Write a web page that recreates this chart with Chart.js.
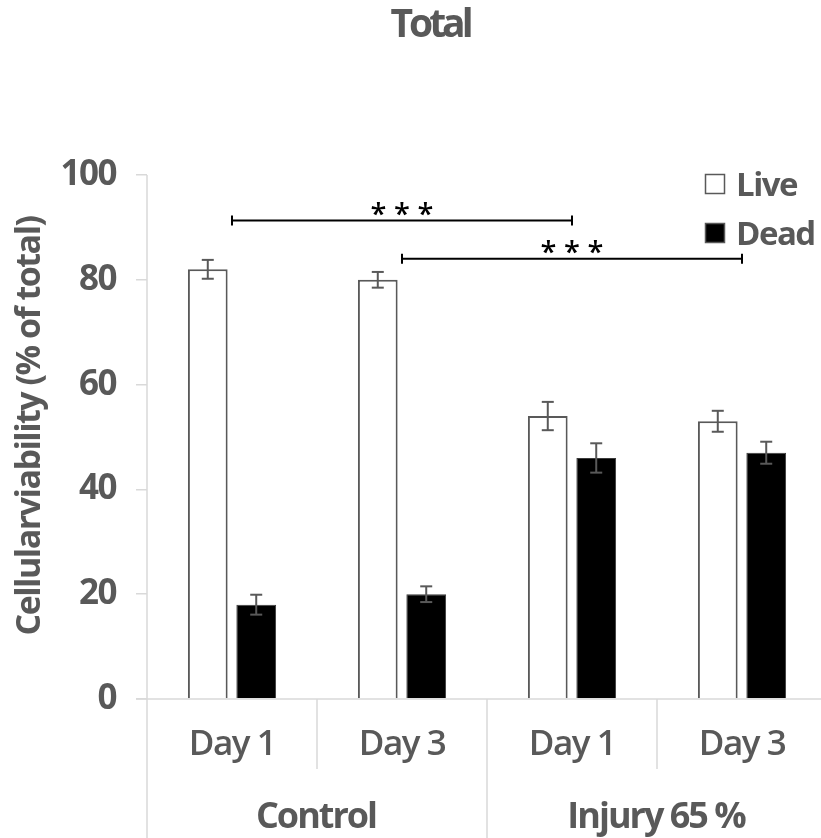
<!DOCTYPE html>
<html>
<head>
<meta charset="utf-8">
<title>Total</title>
<script src="https://cdn.jsdelivr.net/npm/chart.js@4/dist/chart.umd.min.js"></script>
<style>
  html, body { margin: 0; padding: 0; background: #ffffff; overflow: hidden; width: 821px; height: 838px; }
  canvas { display: block; }
</style>
</head>
<body>
<canvas id="chart" width="830" height="838"></canvas>
<script>
// Categories and groups along the x axis
const categories = ['Day 1', 'Day 3', 'Day 1', 'Day 3'];
const groups = ['Control', 'Injury 65 %'];
const groupSizes = [2, 2];

// Cell viability (% of total) with error margins
const liveValues = [82, 80, 54, 53];
const liveErrors = [1.8, 1.5, 2.7, 2.0];
const deadValues = [18, 20, 46, 47];
const deadErrors = [1.9, 1.5, 2.8, 2.1];

// Y axis ticks and title
const yTicks = [0, 20, 40, 60, 80, 100];
const yTitle = 'Cellularviability (% of total)';

// Significance brackets: from category, to category, height, marker position, label
const sigFrom = [0, 1];
const sigTo = [2, 3];
const sigHeight = [91.3, 84];
const sigLabelAt = [1, 2];
const sigLabels = ['***', '***'];

const TEXT = '#595959';
const AXIS = '#d9d9d9';
const FONT = '"Open Sans", "Liberation Sans", sans-serif';

function segment(ctx, x1, y1, x2, y2) {
  ctx.beginPath();
  ctx.moveTo(x1, y1);
  ctx.lineTo(x2, y2);
  ctx.stroke();
}

// tighter tracking for the axis tick labels
const tracking = {
  id: 'tracking',
  beforeDraw(chart) { chart.ctx.letterSpacing = '-1.5px'; },
  afterDatasetsDraw(chart) { chart.ctx.letterSpacing = '0px'; }
};

const errorBars = {
  id: 'errorBars',
  afterDatasetsDraw(chart) {
    const { ctx } = chart;
    const y = chart.scales.y;
    const errs = [liveErrors, deadErrors];
    ctx.save();
    ctx.strokeStyle = TEXT;
    ctx.lineWidth = 2;
    chart.data.datasets.forEach((ds, di) => {
      const meta = chart.getDatasetMeta(di);
      meta.data.forEach((bar, i) => {
        const v = ds.data[i];
        const e = errs[di][i];
        const yt = y.getPixelForValue(v + e);
        const yb = y.getPixelForValue(v - e);
        segment(ctx, bar.x, yt, bar.x, yb);
        segment(ctx, bar.x - 6, yt, bar.x + 6, yt);
        segment(ctx, bar.x - 6, yb, bar.x + 6, yb);
      });
    });
    ctx.restore();
  }
};

const decorations = {
  id: 'decorations',
  afterDraw(chart) {
    const { ctx, chartArea: a } = chart;
    const x = chart.scales.x;
    const y = chart.scales.y;
    ctx.save();

    // axis lines
    ctx.strokeStyle = AXIS;
    ctx.lineWidth = 1.5;
    segment(ctx, a.left - 11, a.bottom, chart.width, a.bottom);
    segment(ctx, a.left, a.top, a.left, chart.height);

    // category and group dividers below the axis
    const groupEnds = [];
    let acc = 0;
    groupSizes.forEach(n => { acc += n; groupEnds.push(acc); });
    for (let i = 1; i < categories.length; i++) {
      const bx = (x.getPixelForValue(i - 1) + x.getPixelForValue(i)) / 2;
      const bottom = groupEnds.includes(i) ? chart.height : a.bottom + 70;
      segment(ctx, bx, a.bottom, bx, bottom);
    }

    // group labels
    ctx.fillStyle = TEXT;
    ctx.font = 'bold 36px ' + FONT;
    ctx.textAlign = 'center';
    ctx.textBaseline = 'alphabetic';
    ctx.letterSpacing = '-2px';
    let start = 0;
    const step = x.getPixelForValue(1) - x.getPixelForValue(0);
    groups.forEach((g, gi) => {
      const first = x.getPixelForValue(start) - step / 2;
      const last = x.getPixelForValue(start + groupSizes[gi] - 1) + step / 2;
      ctx.fillText(g, (first + last) / 2 - 1, 828);
      start += groupSizes[gi];
    });

    // y axis title
    ctx.save();
    ctx.font = 'bold 34px ' + FONT;
    ctx.letterSpacing = '-1.5px';
    ctx.translate(40, 426);
    ctx.rotate(-Math.PI / 2);
    ctx.fillText(yTitle, 0, 0);
    ctx.restore();

    // chart title
    ctx.font = 'bold 39px ' + FONT;
    ctx.letterSpacing = '-4px';
    ctx.fillText('Total', 430, 37);

    // legend
    ctx.letterSpacing = '-1.5px';
    ctx.font = 'bold 33px ' + FONT;
    ctx.textAlign = 'left';
    const legendY = [174, 223];
    chart.data.datasets.forEach((ds, di) => {
      const top = legendY[di];
      ctx.fillStyle = ds.backgroundColor;
      ctx.fillRect(705, top, 20, 20);
      ctx.strokeStyle = TEXT;
      ctx.lineWidth = 1.5;
      ctx.strokeRect(705.5, top + 0.5, 19, 19);
      ctx.fillStyle = TEXT;
      ctx.fillText(ds.label, 736, top + 22);
    });

    // significance brackets
    ctx.letterSpacing = '0px';
    ctx.strokeStyle = '#000000';
    ctx.fillStyle = '#000000';
    ctx.lineWidth = 2;
    ctx.font = '600 29px ' + FONT;
    ctx.textAlign = 'center';
    sigFrom.forEach((f, k) => {
      const x1 = x.getPixelForValue(f);
      const x2 = x.getPixelForValue(sigTo[k]);
      const yy = y.getPixelForValue(sigHeight[k]);
      segment(ctx, x1, yy, x2, yy);
      segment(ctx, x1, yy - 5, x1, yy + 5);
      segment(ctx, x2, yy - 5, x2, yy + 5);
      const cx = x.getPixelForValue(sigLabelAt[k]);
      const chars = sigLabels[k].split('');
      chars.forEach((c, ci) => {
        ctx.fillText(c, cx + (ci - (chars.length - 1) / 2) * 23.5, yy + 3);
      });
    });

    ctx.restore();
  }
};

const chart = new Chart(document.getElementById('chart'), {
  type: 'bar',
  data: {
    labels: categories,
    datasets: [
      {
        label: 'Live',
        data: liveValues,
        backgroundColor: '#ffffff',
        borderColor: TEXT,
        borderWidth: 2,
        categoryPercentage: 0.57,
        barPercentage: 0.82
      },
      {
        label: 'Dead',
        data: deadValues,
        backgroundColor: '#000000',
        borderColor: '#3a3a3a',
        borderWidth: 1,
        categoryPercentage: 0.57,
        barPercentage: 0.82
      }
    ]
  },
  options: {
    responsive: false,
    animation: false,
    devicePixelRatio: 1,
    layout: { padding: { top: 175, right: 3, bottom: 0, left: 0 } },
    plugins: {
      legend: { display: false },
      title: { display: false },
      tooltip: { enabled: false }
    },
    scales: {
      x: {
        grid: { display: false },
        border: { display: false },
        ticks: {
          color: TEXT,
          padding: 17,
          font: { family: FONT, size: 35, weight: '600' }
        },
        afterFit(scale) { scale.height = 139; }
      },
      y: {
        min: 0,
        max: 100,
        afterBuildTicks(scale) { scale.ticks = yTicks.map(v => ({ value: v })); },
        grid: { display: true, drawOnChartArea: false, drawTicks: true, tickLength: 11, color: AXIS, lineWidth: 1.5 },
        border: { display: false },
        ticks: {
          color: TEXT,
          padding: 20,
          font: { family: FONT, size: 35, weight: 'bold' }
        },
        afterFit(scale) { scale.width = 147; }
      }
    }
  },
  plugins: [tracking, errorBars, decorations]
});
</script>
</body>
</html>
